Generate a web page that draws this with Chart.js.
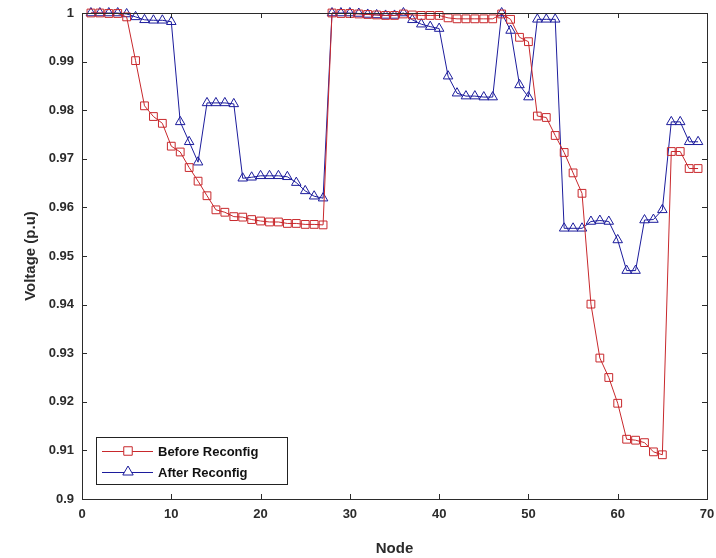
<!DOCTYPE html>
<html>
<head>
<meta charset="utf-8">
<script src="https://cdn.jsdelivr.net/npm/chart.js@4.4.1/dist/chart.umd.min.js"></script>
<style>
  html, body { margin: 0; padding: 0; background: #fff; }
  #wrap { width: 716px; height: 558px; }
</style>
</head>
<body>
<div id="wrap"><canvas id="chart" width="716" height="558"></canvas></div>
<script>
// node numbers on the x axis
const nodes = [1, 2, 3, 4, 5, 6, 7, 8, 9, 10, 11, 12, 13, 14, 15, 16, 17, 18, 19, 20,
  21, 22, 23, 24, 25, 26, 27, 28, 29, 30, 31, 32, 33, 34, 35, 36, 37, 38, 39, 40,
  41, 42, 43, 44, 45, 46, 47, 48, 49, 50, 51, 52, 53, 54, 55, 56, 57, 58, 59, 60,
  61, 62, 63, 64, 65, 66, 67, 68, 69];

// voltage before reconfiguration (p.u)
const beforeReconfig = [1.0000, 1.0000, 0.9999, 0.9999, 0.9992, 0.9902, 0.9809, 0.9787, 0.9773, 0.9726,
  0.9714, 0.9682, 0.9654, 0.9624, 0.9595, 0.9590, 0.9581, 0.9580, 0.9575, 0.9572,
  0.9570, 0.9570, 0.9567, 0.9567, 0.9565, 0.9565, 0.9564, 1.0000, 0.9999, 0.9999,
  0.9998, 0.9997, 0.9996, 0.9995, 0.9995, 0.9998, 0.9996, 0.9995, 0.9995, 0.9995,
  0.9990, 0.9988, 0.9988, 0.9988, 0.9988, 0.9988, 0.9998, 0.9987, 0.9950, 0.9941,
  0.9788, 0.9785, 0.9748, 0.9713, 0.9671, 0.9629, 0.9401, 0.9290, 0.9250, 0.9197,
  0.9123, 0.9121, 0.9116, 0.9097, 0.9091, 0.9715, 0.9715, 0.9680, 0.9680];

// voltage after reconfiguration (p.u)
const afterReconfig = [1.0000, 1.0000, 1.0000, 1.0000, 0.9998, 0.9992, 0.9986, 0.9985, 0.9985, 0.9982,
  0.9776, 0.9735, 0.9693, 0.9815, 0.9815, 0.9815, 0.9813, 0.9660, 0.9662, 0.9665,
  0.9665, 0.9665, 0.9663, 0.9651, 0.9634, 0.9623, 0.9619, 1.0000, 1.0000, 1.0000,
  0.9999, 0.9997, 0.9996, 0.9995, 0.9995, 1.0000, 0.9986, 0.9977, 0.9972, 0.9968,
  0.9870, 0.9835, 0.9829, 0.9829, 0.9827, 0.9827, 1.0000, 0.9964, 0.9852, 0.9827,
  0.9987, 0.9987, 0.9987, 0.9557, 0.9557, 0.9557, 0.9571, 0.9573, 0.9571, 0.9533,
  0.9470, 0.9470, 0.9574, 0.9575, 0.9595, 0.9776, 0.9776, 0.9735, 0.9735];

const seriesNames = ['Before Reconfig', 'After Reconfig'];
const xTicks = [0, 10, 20, 30, 40, 50, 60, 70];
const yTicks = [0.9, 0.91, 0.92, 0.93, 0.94, 0.95, 0.96, 0.97, 0.98, 0.99, 1];

const RED = '#c8282c';
const BLUE = '#1c1c9c';
const AXIS = '#2b2b2b';
const FONT = '"Liberation Sans", Arial, Helvetica, sans-serif';

const toPoints = vals => nodes.map((n, i) => ({x: n, y: vals[i]}));

// matlab style box: frame on all four sides, ticks pointing inward, legend inside
const boxPlugin = {
  id: 'boxPlugin',
  afterDraw(chart) {
    const {ctx, chartArea: a, scales: {x, y}} = chart;
    ctx.save();
    ctx.strokeStyle = AXIS;
    ctx.lineWidth = 1;
    ctx.strokeRect(Math.round(a.left) + 0.5, Math.round(a.top) + 0.5,
      Math.round(a.right - a.left), Math.round(a.bottom - a.top));
    const tl = 5;
    ctx.beginPath();
    xTicks.forEach(v => {
      const px = Math.round(x.getPixelForValue(v)) + 0.5;
      ctx.moveTo(px, a.bottom); ctx.lineTo(px, a.bottom - tl);
      ctx.moveTo(px, a.top); ctx.lineTo(px, a.top + tl);
    });
    yTicks.forEach(v => {
      const py = Math.round(y.getPixelForValue(v)) + 0.5;
      ctx.moveTo(a.left, py); ctx.lineTo(a.left + tl, py);
      ctx.moveTo(a.right, py); ctx.lineTo(a.right - tl, py);
    });
    ctx.stroke();

    // legend
    const lx = 96, ly = 437, lw = 191, lh = 47;
    ctx.fillStyle = '#fff';
    ctx.fillRect(lx, ly, lw, lh);
    ctx.strokeStyle = '#222';
    ctx.strokeRect(lx + 0.5, ly + 0.5, lw, lh);
    const rows = [
      {name: seriesNames[0], color: RED, y: ly + 14, style: 'rect'},
      {name: seriesNames[1], color: BLUE, y: ly + 35, style: 'triangle'}
    ];
    rows.forEach(r => {
      ctx.strokeStyle = r.color;
      ctx.lineWidth = 1;
      ctx.beginPath();
      ctx.moveTo(lx + 6, r.y + 0.5);
      ctx.lineTo(lx + 57, r.y + 0.5);
      ctx.stroke();
      ctx.fillStyle = '#fff';
      Chart.helpers.drawPoint(ctx, {pointStyle: r.style, radius: 6, borderWidth: 1.2}, lx + 32, r.y);
      ctx.fillStyle = '#111';
      ctx.font = 'bold 13px ' + FONT;
      ctx.textBaseline = 'middle';
      ctx.textAlign = 'left';
      ctx.fillText(r.name, lx + 62, r.y + 1);
    });
    ctx.restore();
  }
};

new Chart(document.getElementById('chart'), {
  type: 'line',
  data: {
    datasets: [
      {
        label: seriesNames[0],
        data: toPoints(beforeReconfig),
        borderColor: RED,
        borderWidth: 1,
        pointStyle: 'rect',
        pointRadius: 5.5,
        pointBorderWidth: 1,
        pointBorderColor: RED,
        pointBackgroundColor: 'transparent',
        tension: 0
      },
      {
        label: seriesNames[1],
        data: toPoints(afterReconfig),
        borderColor: BLUE,
        borderWidth: 1,
        pointStyle: 'triangle',
        pointRadius: 5.5,
        pointBorderWidth: 1,
        pointBorderColor: BLUE,
        pointBackgroundColor: 'transparent',
        tension: 0
      }
    ]
  },
  options: {
    responsive: false,
    animation: false,
    clip: false,
    layout: { padding: { top: 13, right: 9, left: 0, bottom: 0 } },
    plugins: {
      legend: { display: false },
      tooltip: { enabled: false }
    },
    scales: {
      x: {
        type: 'linear',
        min: 0,
        max: 70,
        afterFit: s => { s.height = 59; s.paddingLeft = 0; s.paddingRight = 0; },
        afterBuildTicks: s => { s.ticks = xTicks.map(v => ({value: v})); },
        grid: { display: false, drawTicks: false },
        border: { display: false },
        ticks: {
          padding: 8,
          color: AXIS,
          font: { family: FONT, size: 13, weight: 'bold' },
          maxRotation: 0
        },
        title: {
          display: true,
          text: 'Node',
          color: AXIS,
          font: { family: FONT, size: 15, weight: 'bold' },
          padding: { top: 0, bottom: 0 }
        }
      },
      y: {
        min: 0.9,
        max: 1,
        afterFit: s => { s.width = 82; s.paddingTop = 0; s.paddingBottom = 0; },
        afterBuildTicks: s => { s.ticks = yTicks.map(v => ({value: v})); },
        grid: { display: false, drawTicks: false },
        border: { display: false },
        ticks: {
          padding: 8,
          color: AXIS,
          font: { family: FONT, size: 13, weight: 'bold' },
          callback: v => (v === 1 || Math.abs(v - 0.9) < 1e-9) ? String(+v.toFixed(2)) : v.toFixed(2)
        },
        title: {
          display: true,
          text: 'Voltage (p.u)',
          color: AXIS,
          font: { family: FONT, size: 15, weight: 'bold' },
          padding: { top: 22, bottom: 0 }
        }
      }
    }
  },
  plugins: [boxPlugin]
});
</script>
</body>
</html>
